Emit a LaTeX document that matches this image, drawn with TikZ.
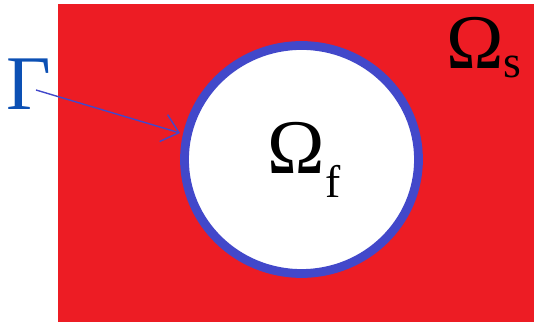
\documentclass[tikz,border=0pt]{standalone}
\usepackage{fontspec}
\setmainfont{Liberation Serif}
\usetikzlibrary{arrows.meta}

\definecolor{domainRed}{RGB}{237,28,36}
\definecolor{ifaceBlue}{RGB}{66,72,202}
\definecolor{labelBlue}{RGB}{12,80,180}

\newcommand{\domlabel}[3]{%
  \fontsize{44}{44}\selectfont #1%
  \raisebox{#3}{\fontsize{26}{26}\selectfont #2}%
}

\begin{document}
\begin{tikzpicture}[
    every node/.style={inner sep=0pt, font=\fontsize{44}{44}\selectfont},
    iface/.style={draw=ifaceBlue, line width=5pt},
    pointer/.style={draw=ifaceBlue, line width=0.8pt,
                    -{Straight Barb[length=3.2mm, width=5.6mm]}}
  ]
  \useasboundingbox (0,0) rectangle (10.7,6.5);

  % Solid domain
  \fill[domainRed] (1.16,0.06) rectangle (10.68,6.42);

  % Fluid domain and interface
  \filldraw[fill=white, iface] (6.03,3.31) ellipse [x radius=2.34, y radius=2.28];

  % Labels
  \node (omegaF) at (6.08,3.30) {\domlabel{Ω}{f}{-0.3em}};
  \node (omegaS) at (9.68,5.55) {\domlabel{Ω}{s}{-0.12em}};
  \node[text=labelBlue] (gamma) at (0.58,4.82) {Γ};

  % Pointer to interface
  \coordinate (gammaTail) at (0.72,4.70);
  \coordinate (gammaHead) at (3.60,3.84);
  \draw[pointer] (gammaTail) -- (gammaHead);
\end{tikzpicture}
\end{document}
